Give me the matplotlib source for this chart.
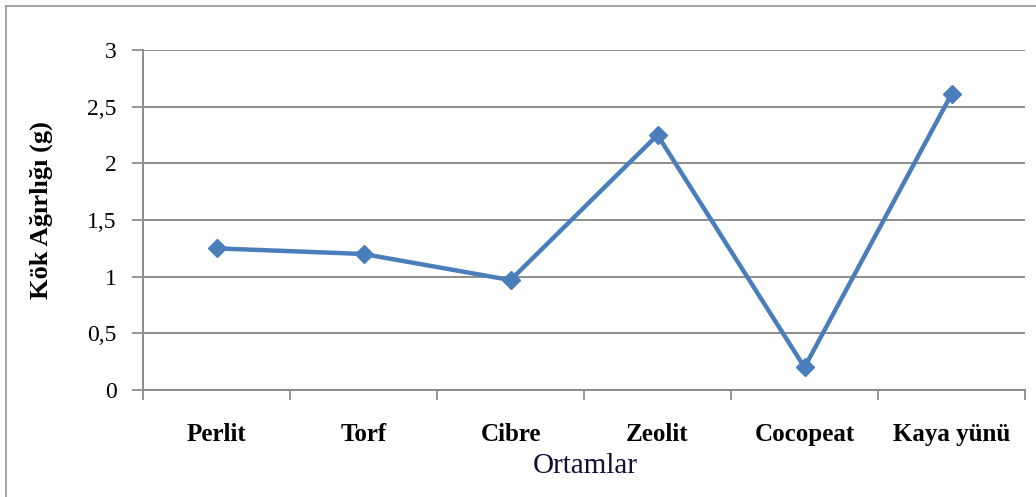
import numpy as np
import matplotlib
matplotlib.use("Agg")
import matplotlib.pyplot as plt
from matplotlib.patches import Rectangle

# veriler
ortamlar = ["Perlit", "Torf", "Cibre", "Zeolit", "Cocopeat", "Kaya yünü"]
kok_agirligi = [1.25, 1.20, 0.97, 2.25, 0.20, 2.61]
y_ticks = [0, 0.5, 1, 1.5, 2, 2.5, 3]
y_labels = ["0", "0,5", "1", "1,5", "2", "2,5", "3"]

plt.rcParams["font.family"] = ["Liberation Serif", "DejaVu Serif"]

grid_renk = "#8c8c8c"
cizgi_renk = "#4a7ebb"

fig = plt.figure(figsize=(10.36, 4.97), dpi=100)
ax = fig.add_axes([143 / 1036, 107 / 497, 882 / 1036, 340 / 497])

x = np.arange(len(ortamlar))
ax.plot(x, kok_agirligi, color=cizgi_renk, linewidth=3.2, marker="D",
        markersize=9.5, markerfacecolor=cizgi_renk, markeredgecolor=cizgi_renk,
        zorder=3)

ax.set_xlim(-0.5, len(ortamlar) - 0.5)
ax.set_ylim(0, 3)

# y ekseni
ax.set_yticks(y_ticks)
ax.set_yticklabels(y_labels, fontsize=17)
ax.tick_params(axis="y", direction="out", length=8, width=1.3,
               color=grid_renk, pad=11)
ax.yaxis.grid(True, color=grid_renk, linewidth=1.4)

# x ekseni: kategori sinirlarinda tik, ortada etiket
ax.set_xticks(np.arange(-0.5, len(ortamlar)))
ax.set_xticklabels([])
ax.set_xticks(x, minor=True)
ax.set_xticklabels(ortamlar, minor=True, fontsize=18, fontweight="bold")
ax.tick_params(axis="x", which="major", direction="out", length=7,
               width=1.3, color=grid_renk)
ax.tick_params(axis="x", which="minor", length=0, pad=24)

ax.set_axisbelow(True)
for s in ["top", "right"]:
    ax.spines[s].set_visible(False)
for s in ["left", "bottom"]:
    ax.spines[s].set_color(grid_renk)
    ax.spines[s].set_linewidth(1.4)

fig.text(41 / 1036, 1 - 210 / 497, "Kök Ağırlığı (g)", rotation=90,
         ha="center", va="center", fontsize=19, fontweight="bold")
fig.text(585 / 1036, 1 - 466 / 497, "Ortamlar", ha="center", va="center",
         fontsize=21, color="#10103a")

# dis cerceve
fig.patches.append(Rectangle((6 / 1036, -0.1), 1.2, 1 - 6 / 497 + 0.1,
                             transform=fig.transFigure, fill=False,
                             edgecolor="#9a9a9a", linewidth=1.3))

fig.savefig("out.png", dpi=100)
